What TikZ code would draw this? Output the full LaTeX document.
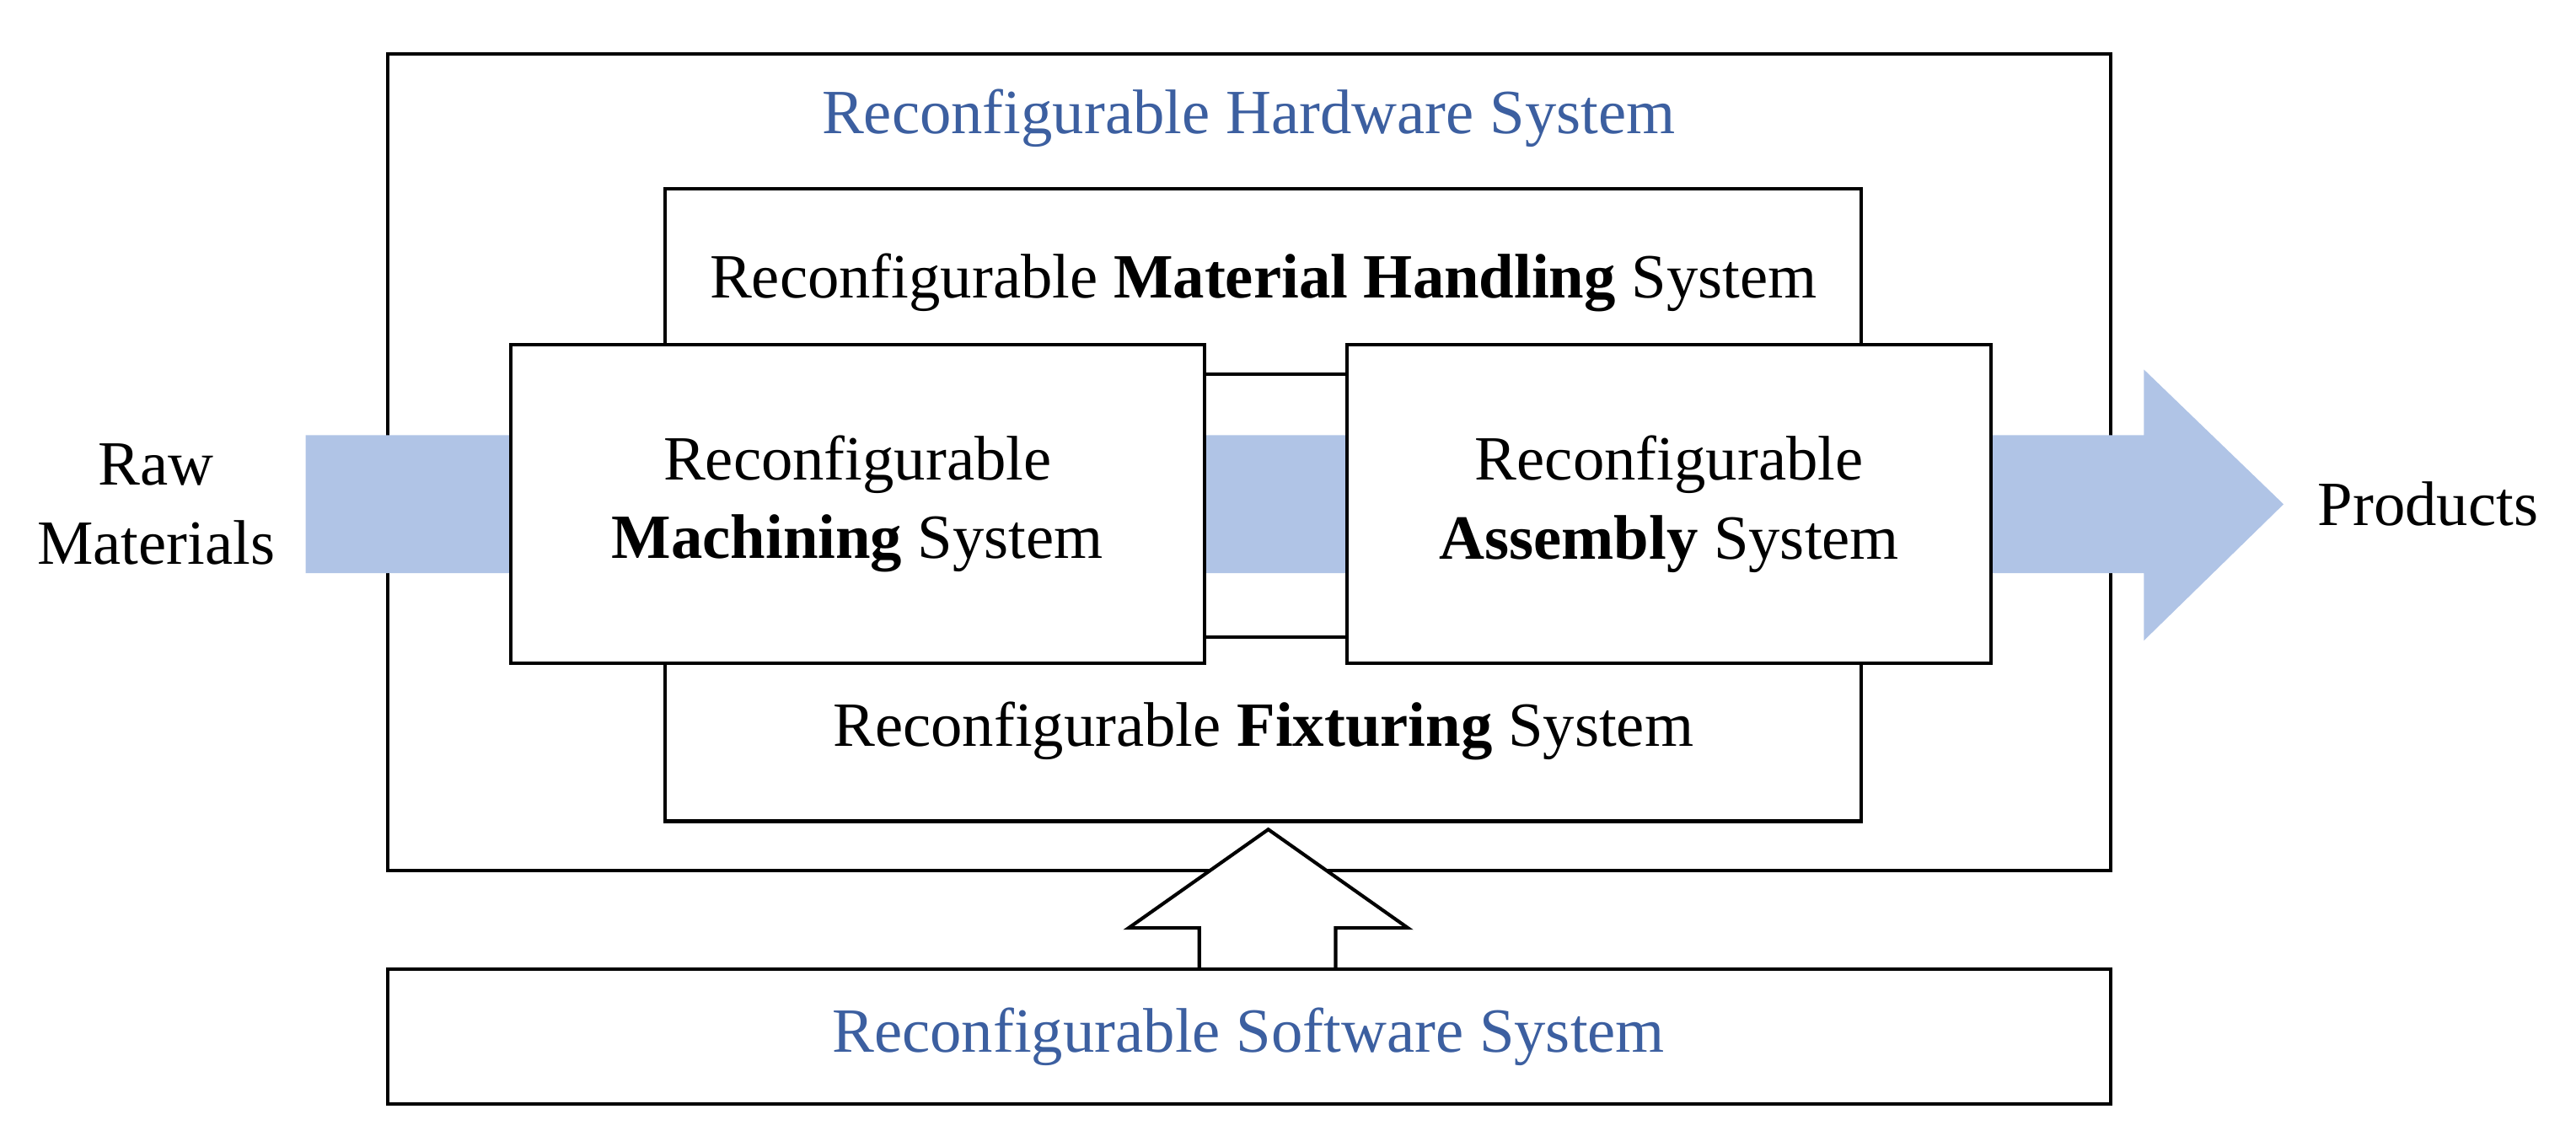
\documentclass[tikz,border=0pt]{standalone}
\usepackage{fontspec}
\setmainfont{Liberation Serif}
\definecolor{tblue}{RGB}{60,95,160}
\definecolor{band}{RGB}{176,196,230}
\begin{document}
\begin{tikzpicture}[x=0.01cm,y=-0.01cm,
  box/.style={draw=black,line width=0.6pt},
  txt/.style={font=\fontsize{10.9pt}{13.6pt}\selectfont,inner sep=0pt,align=center}]
\useasboundingbox (0,0) rectangle (1568,691.6);
\draw[box] (236,33) rectangle (1285,530);
\node[txt,text=tblue] (hw) at (760,72) {Reconfigurable Hardware System};
\draw[box] (405,115) rectangle (1133,500);
\fill[band] (186,265) -- (1305,265) -- (1305,225) -- (1390,307) -- (1305,390) -- (1305,349) -- (186,349) -- cycle;
\draw[box] (733,228) -- (820,228) (733,388) -- (820,388);
\node[txt] (mh) at (769,172) {Reconfigurable \textbf{Material Handling} System};
\node[txt] (fx) at (769,445) {Reconfigurable \textbf{Fixturing} System};
\draw[box,fill=white] (311,210) rectangle (733,404);
\draw[box,fill=white] (820,210) rectangle (1212,404);
\node[txt] (mct) at (522,307) {Reconfigurable\\\textbf{Machining} System};
\node[txt] (ast) at (1016,307) {Reconfigurable\\\textbf{Assembly} System};
\node[txt] (raw) at (95,307) {Raw\\Materials};
\node[txt] (pr) at (1478,307) {Products};
\draw[box,fill=white] (730,590) -- (730,565) -- (687,565) -- (772,505) -- (857,565) -- (813,565) -- (813,590);
\draw[box] (236,590) rectangle (1285,672);
\node[txt,text=tblue] (sw) at (760,631) {Reconfigurable Software System};
\end{tikzpicture}
\end{document}
